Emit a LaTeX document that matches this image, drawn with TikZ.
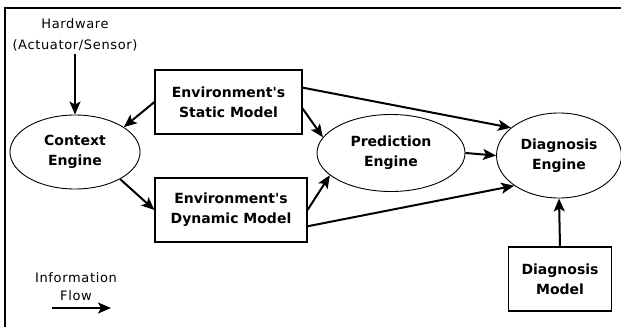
\documentclass[tikz,border=0pt]{standalone}
\usepackage{fontspec}
\setmainfont{DejaVu Sans}
\newfontfamily\labelfont[LetterSpace=5]{DejaVu Sans}
\usetikzlibrary{arrows.meta,shapes.geometric}

\tikzset{
  engine/.style={draw, line width=0.9pt, ellipse, inner sep=0pt, font=\fontsize{14}{20}\selectfont\bfseries, align=center},
  modelbox/.style={draw, line width=1.1pt, rectangle, inner sep=0pt, font=\fontsize{14}{20}\selectfont\bfseries, align=center},
  plainlabel/.style={font=\labelfont\fontsize{13}{21}\selectfont, align=center, inner sep=0pt},
  flow/.style={line width=2pt, -{Stealth[length=13pt,width=11pt,inset=3pt]}},
}

\begin{document}
\begin{tikzpicture}[x=1pt, y=-1pt]
  \useasboundingbox (0,0) rectangle (621,327);

  % frame: top and left edges
  \draw[line width=2pt] (621,8) -- (5,8) -- (5,327);

  % engines
  \node[engine, minimum width=130pt, minimum height=74pt] (ctx) at (75,152) {Context\\Engine};
  \node[engine, minimum width=148pt, minimum height=77pt] (pred) at (391,153) {Prediction\\Engine};
  \node[engine, minimum width=125pt, minimum height=85pt] (diag) at (559,155.5) {Diagnosis\\Engine};

  % models
  \node[modelbox, minimum width=147pt, minimum height=64pt] (static) at (228.5,102) {Environment\textquotesingle s\\Static Model};
  \node[modelbox, minimum width=152pt, minimum height=64pt] (dyn) at (231,210) {Environment\textquotesingle s\\Dynamic Model};
  \node[modelbox, minimum width=103pt, minimum height=64pt] (dmodel) at (560,279) {Diagnosis\\Model};

  % hardware input
  \node[plainlabel] (hw) at (75,35) {Hardware\\(Actuator/Sensor)};

  % legend
  \node[plainlabel, font=\labelfont\fontsize{13}{18}\selectfont] (legend) at (76,287) {Information\\Flow};
  \coordinate (legA) at (52,308);
  \coordinate (legB) at (111,308);

  % information flow
  \draw[flow] (hw.south) ++(0,3) -- (ctx.north);
  \draw[flow] (static.west) -- (ctx.27);
  \draw[flow] (ctx.-31) -- (dyn.west);
  \draw[flow] (static.-5) -- (pred.167);
  \draw[flow] (static.11.5) -- (diag.150);
  \draw[flow] (dyn.east) -- (pred.200);
  \draw[flow] (dyn.-12.6) -- (diag.214);
  \draw[flow] (pred.east) -- (diag.west);
  \draw[flow] (dmodel.north) -- (diag.south);
  \draw[flow] (legA) -- (legB);
\end{tikzpicture}
\end{document}
